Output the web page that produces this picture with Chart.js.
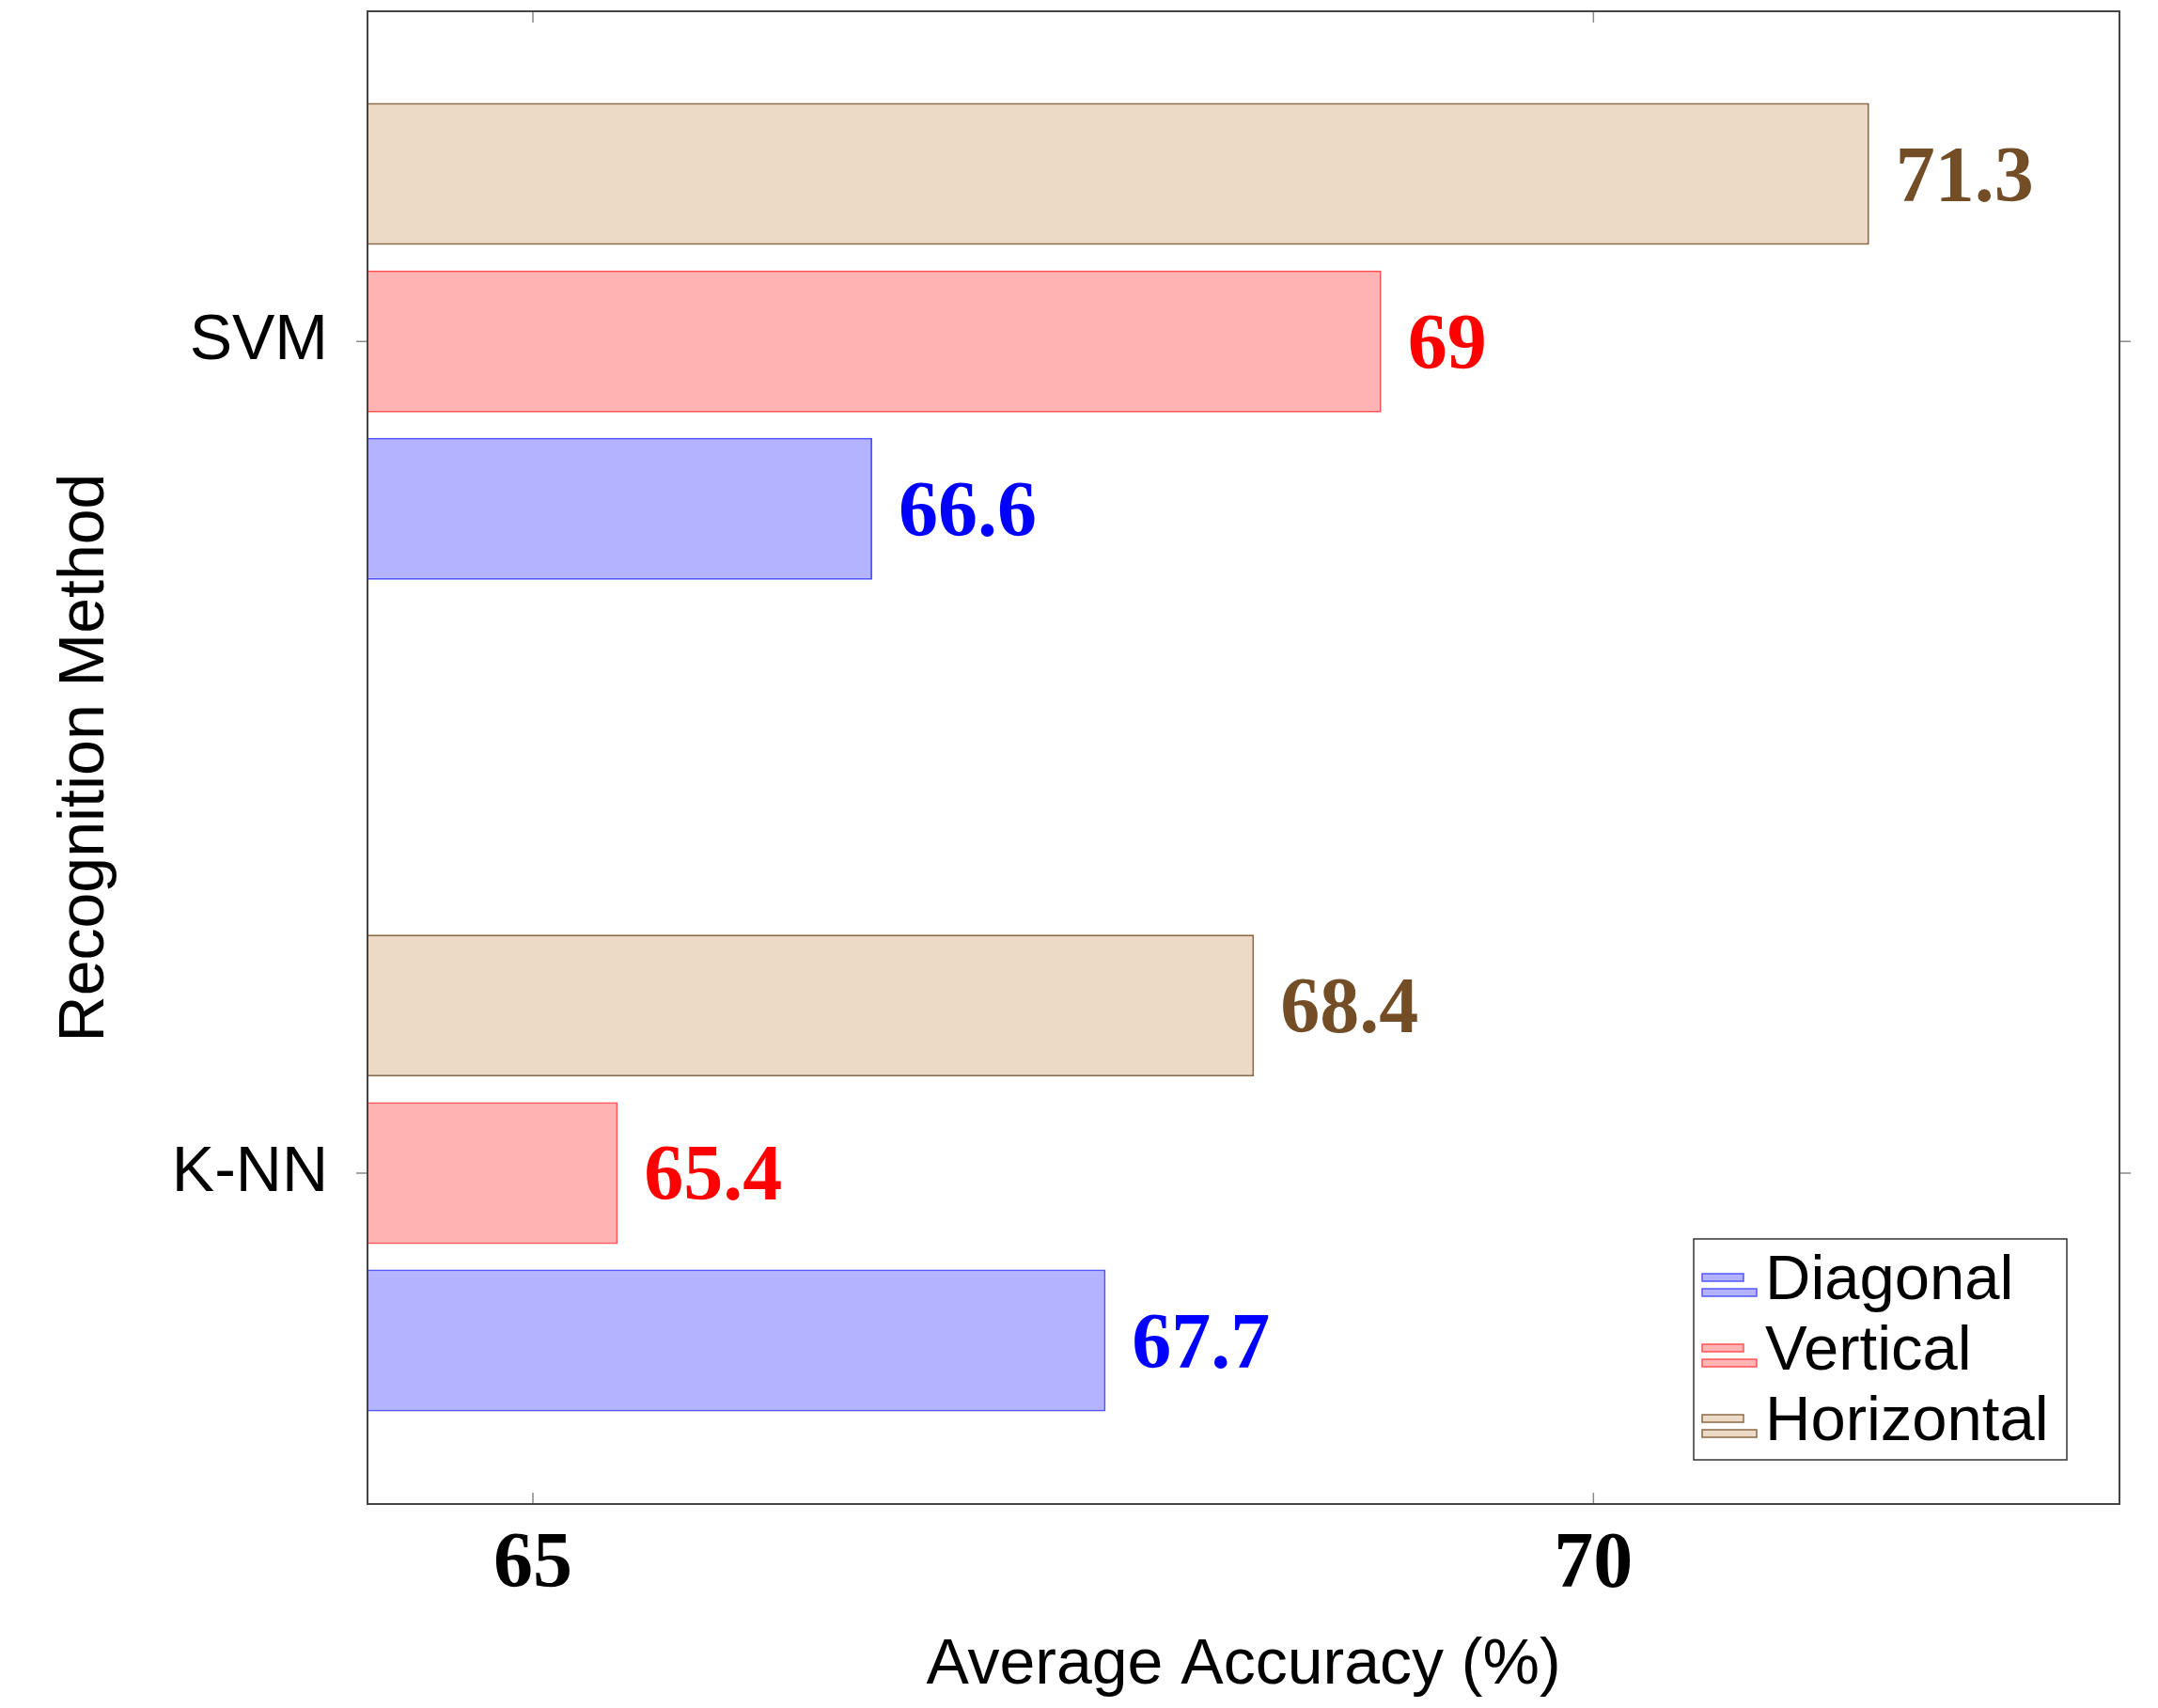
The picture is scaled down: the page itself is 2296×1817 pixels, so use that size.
<!DOCTYPE html>
<html>
<head>
<meta charset="utf-8">
<script src="https://cdn.jsdelivr.net/npm/chart.js@4.4.1/dist/chart.umd.min.js"></script>
<style>
  html, body { margin: 0; padding: 0; background: #fff; }
  #wrap { width: 2296px; height: 1817px; }
</style>
</head>
<body>
<div id="wrap"><canvas id="accChart"></canvas></div>
<script>
'use strict';

/* --------------------------------------------------------------------------
   DATA
   -------------------------------------------------------------------------- */
const methods = ['SVM', 'K-NN'];
const horizontalAcc = [71.3, 68.4];
const verticalAcc = [69, 65.4];
const diagonalAcc = [66.6, 67.7];
const xTickValues = [65, 70];

const SANS = '"Liberation Sans", Arial, sans-serif';
const SERIF = '"Liberation Serif", "Times New Roman", serif';

// linear index axis: first method on top
const methodPos = i => methods.length - 1 - i;
const toPoints = arr => arr.map((v, i) => ({ x: v, y: methodPos(i) }));

/* --------------------------------------------------------------------------
   PLUGINS
   -------------------------------------------------------------------------- */
const frameTicks = {
    id: 'frameTicks',
    afterDatasetsDraw(chart) {
        const { ctx, chartArea: a, scales: { x, y } } = chart;
        ctx.save();
        ctx.strokeStyle = '#8a8a8a';
        ctx.lineWidth = 1.5;
        ctx.beginPath();
        xTickValues.forEach(v => {
            const px = x.getPixelForValue(v);
            ctx.moveTo(px, a.bottom); ctx.lineTo(px, a.bottom - 12);
            ctx.moveTo(px, a.top); ctx.lineTo(px, a.top + 12);
        });
        methods.forEach((m, i) => {
            const py = y.getPixelForValue(methodPos(i));
            ctx.moveTo(a.left, py); ctx.lineTo(a.left - 12, py);
            ctx.moveTo(a.right, py); ctx.lineTo(a.right + 12, py);
        });
        ctx.stroke();
        ctx.strokeStyle = '#444';
        ctx.lineWidth = 2;
        ctx.strokeRect(a.left, a.top, a.right - a.left, a.bottom - a.top);
        ctx.restore();
    },
};

const valueLabels = {
    id: 'valueLabels',
    afterDatasetsDraw(chart) {
        const { ctx } = chart;
        ctx.save();
        ctx.font = 'bold 84px ' + SERIF;
        ctx.textAlign = 'left';
        ctx.textBaseline = 'alphabetic';
        chart.data.datasets.forEach((ds, di) => {
            const meta = chart.getDatasetMeta(di);
            ctx.fillStyle = ds.labelColor;
            meta.data.forEach((bar, i) => {
                const txt = String(ds.data[i].x);
                const m = ctx.measureText(txt);
                ctx.fillText(txt, bar.x + 28, bar.y + m.actualBoundingBoxAscent / 2);
            });
        });
        ctx.restore();
    },
};

const barLegend = {
    id: 'barLegend',
    afterDraw(chart) {
        const { ctx, chartArea: a } = chart;
        const items = chart.data.datasets.slice().reverse();
        const w = 397, h = 235;
        const left = a.right - 56 - w, top = a.bottom - 47 - h;
        ctx.save();
        ctx.fillStyle = '#fff';
        ctx.fillRect(left, top, w, h);
        ctx.strokeStyle = '#333';
        ctx.lineWidth = 1.5;
        ctx.strokeRect(left, top, w, h);
        ctx.font = '67px ' + SANS;
        ctx.textBaseline = 'alphabetic';
        items.forEach((ds, k) => {
            const base = top + 64 + k * 75;
            ctx.fillStyle = ds.backgroundColor;
            ctx.strokeStyle = ds.borderColor;
            ctx.lineWidth = 1.5;
            ctx.fillRect(left + 9, base - 27, 44, 8);
            ctx.strokeRect(left + 9, base - 27, 44, 8);
            ctx.fillRect(left + 9, base - 11, 58, 8);
            ctx.strokeRect(left + 9, base - 11, 58, 8);
            ctx.fillStyle = '#000';
            ctx.fillText(ds.label, left + 76, base);
        });
        ctx.restore();
    },
};

/* --------------------------------------------------------------------------
   CHART
   -------------------------------------------------------------------------- */
const barStyle = { borderWidth: 2, borderSkipped: false, categoryPercentage: 0.604, barPercentage: 0.848 };

new Chart(document.getElementById('accChart').getContext('2d'), {
    type: 'bar',
    data: {
        datasets: [
            { label: 'Horizontal', data: toPoints(horizontalAcc), backgroundColor: '#ecd9c6', borderColor: '#8c6a48', labelColor: '#734d26', ...barStyle },
            { label: 'Vertical', data: toPoints(verticalAcc), backgroundColor: '#ffb3b3', borderColor: '#ff5555', labelColor: '#ff0000', ...barStyle },
            { label: 'Diagonal', data: toPoints(diagonalAcc), backgroundColor: '#b3b3ff', borderColor: '#5555ff', labelColor: '#0000ff', ...barStyle },
        ],
    },
    options: {
        indexAxis: 'y',
        responsive: true,
        maintainAspectRatio: false,
        animation: false,
        layout: { padding: { top: 12, right: 41, left: 0, bottom: 0 } },
        plugins: { legend: { display: false }, tooltip: { enabled: false } },
        scales: {
            x: {
                type: 'linear',
                min: 64.22,
                max: 72.48,
                afterBuildTicks: s => { s.ticks = xTickValues.map(v => ({ value: v })); },
                afterFit: s => { s.height = 217; s.paddingLeft = 0; s.paddingRight = 0; },
                grid: { display: false, drawTicks: false },
                border: { display: false },
                ticks: { color: '#000', padding: 16, font: { family: SERIF, size: 84, weight: 'bold' } },
                title: { display: true, text: 'Average Accuracy (%)', color: '#000', padding: { top: 0, bottom: 4 }, font: { family: SANS, size: 68 } },
            },
            y: {
                type: 'linear',
                offset: false,
                min: -0.398,
                max: 1.397,
                afterBuildTicks: s => { s.ticks = methods.map((m, i) => ({ value: methodPos(i) })); },
                afterFit: s => { s.width = 391; s.paddingTop = 0; s.paddingBottom = 0; },
                grid: { display: false, drawTicks: false, offset: false },
                border: { display: false },
                ticks: { color: '#000', padding: 42, font: { family: SANS, size: 68 }, callback: v => methods[methods.length - 1 - v] },
                title: { display: true, text: 'Recognition Method', color: '#000', padding: { top: 50, bottom: 0 }, font: { family: SANS, size: 68 } },
            },
        },
    },
    plugins: [frameTicks, valueLabels, barLegend],
});
</script>
</body>
</html>
